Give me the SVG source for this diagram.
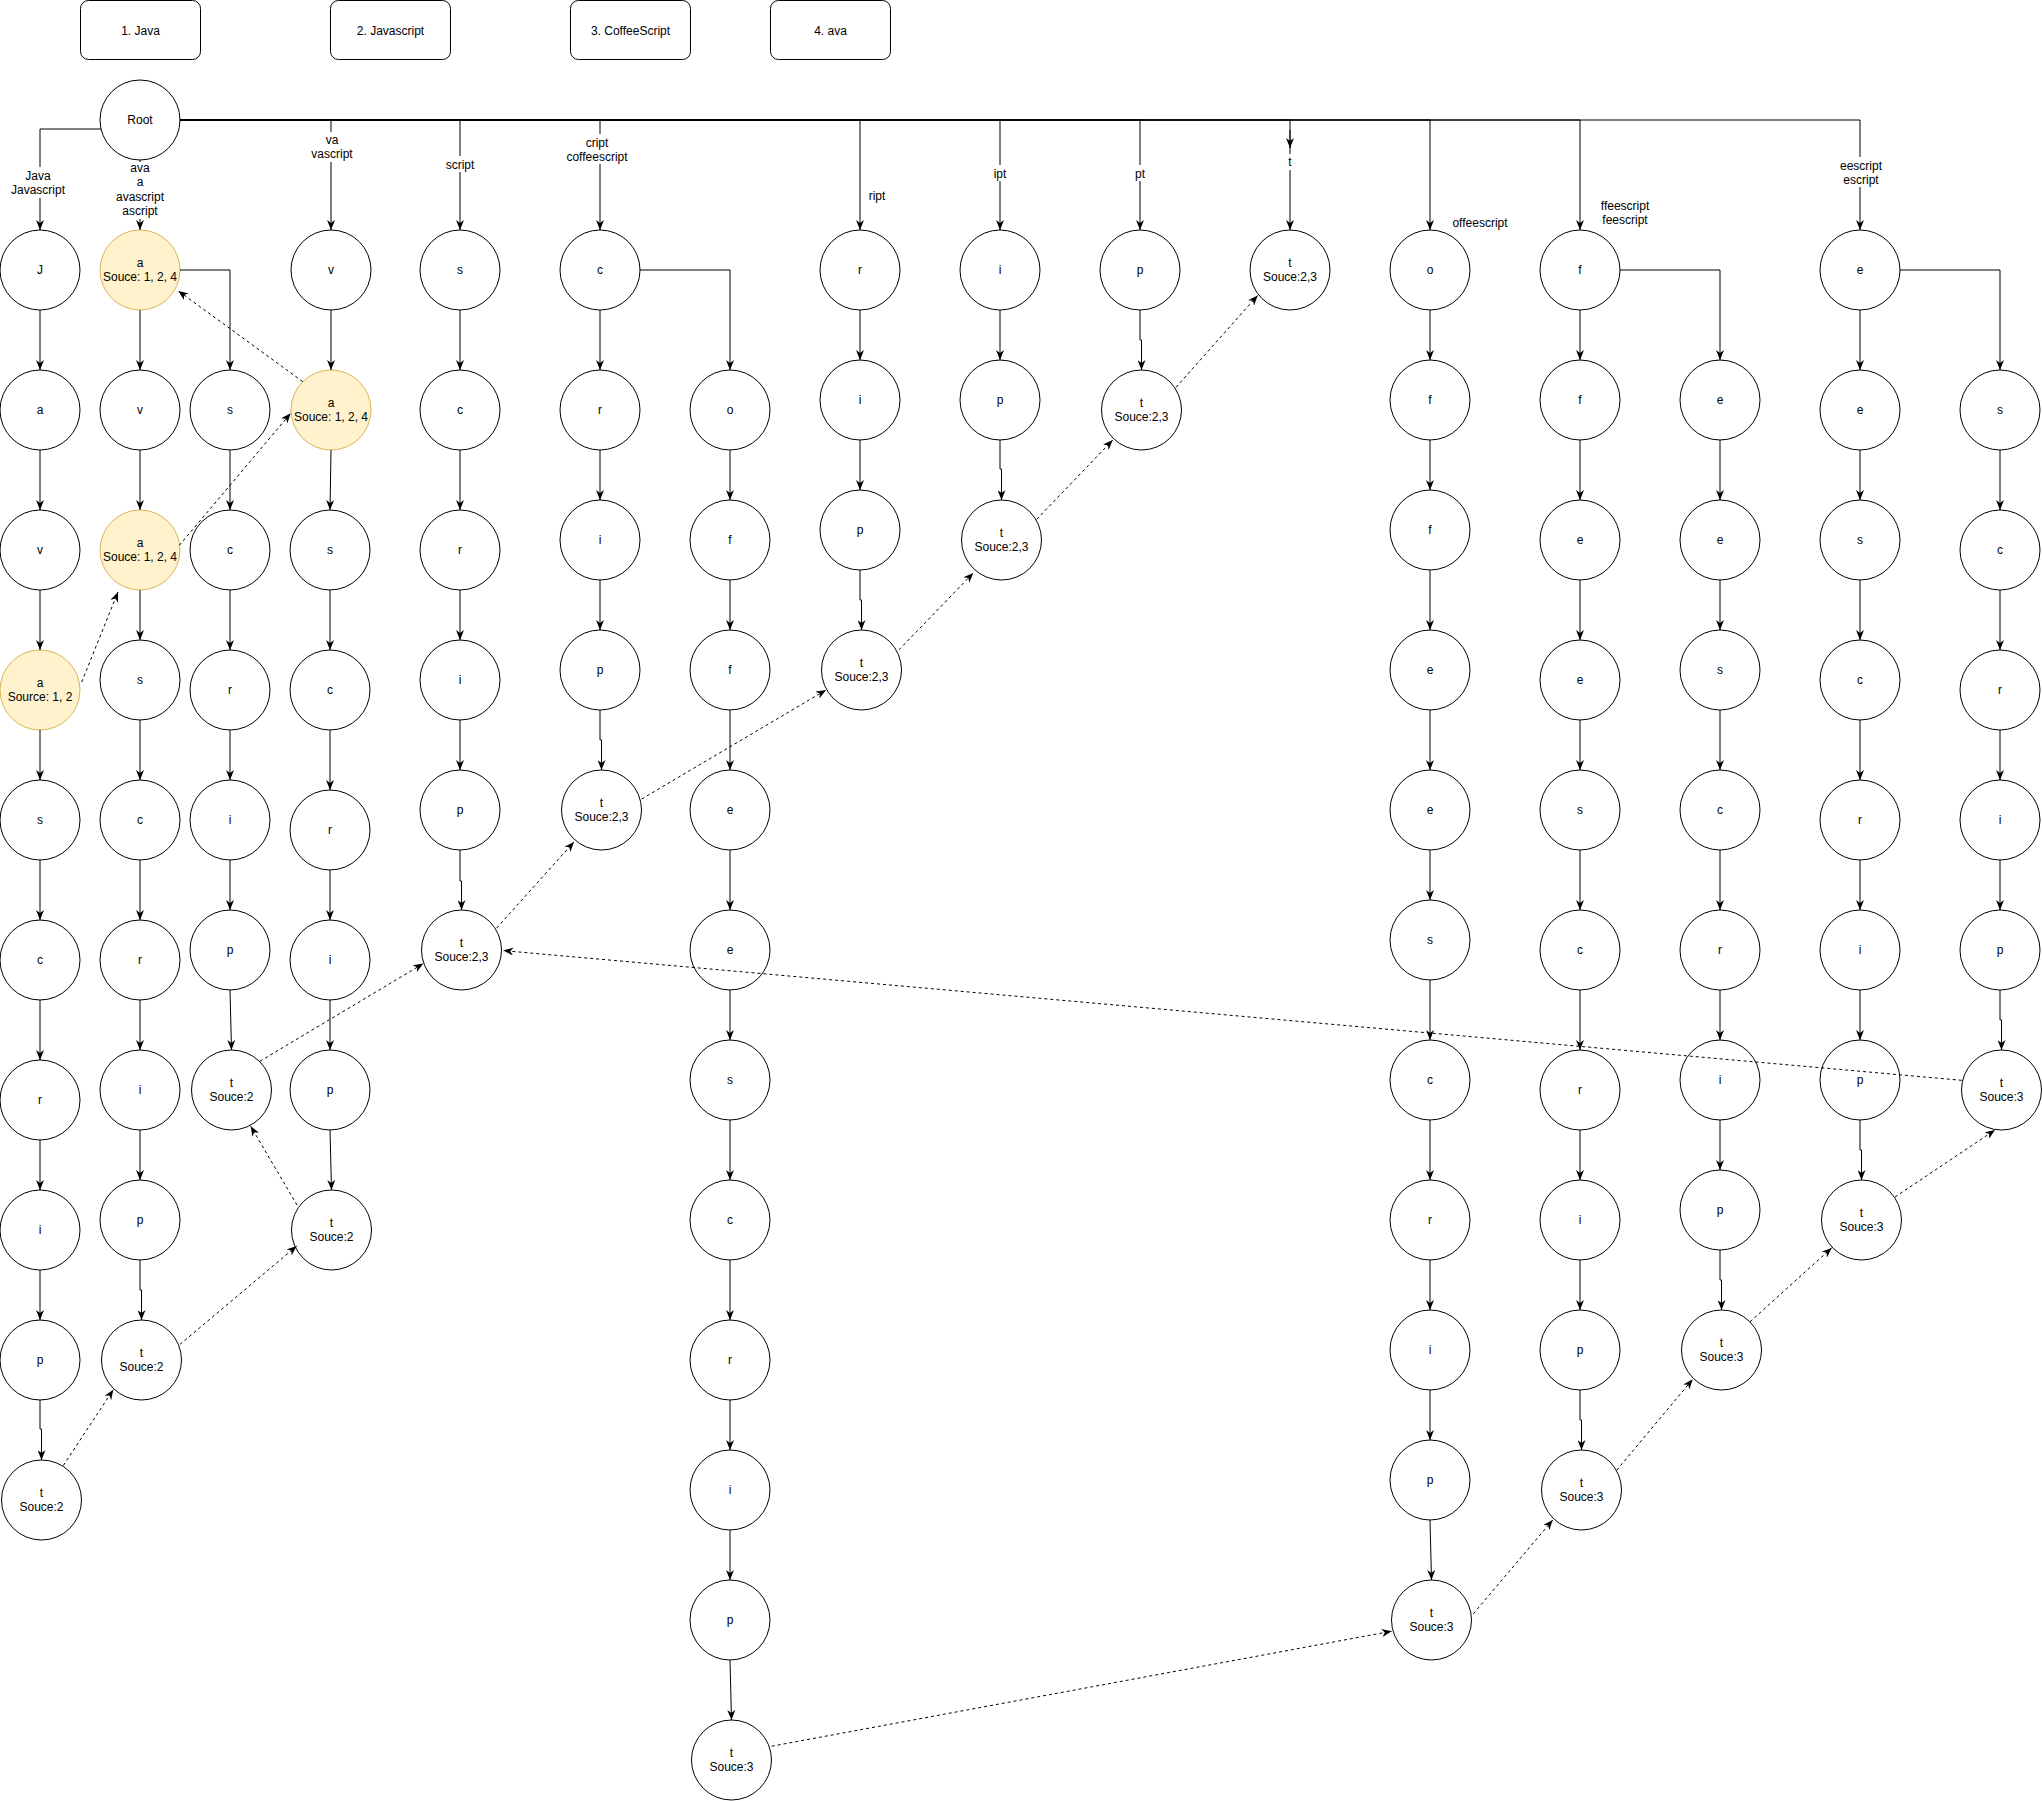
<svg xmlns="http://www.w3.org/2000/svg" width="2042" height="1801" viewBox="0 0 2042 1801">
<style>
.n{fill:#fff;stroke:#000;stroke-width:1}
.y{fill:#fff2cc;stroke:#d6b656;stroke-width:1}
.b{fill:#fff;stroke:#000;stroke-width:1}
.e{fill:none;stroke:#000;stroke-width:1;marker-end:url(#a)}
.d{fill:none;stroke:#000;stroke-width:1;stroke-dasharray:3 3;marker-end:url(#a)}
.lb{fill:#fff;stroke:none}
text{font-family:"Liberation Sans",Arial,Helvetica,sans-serif;font-size:12px;text-anchor:middle;fill:#000}
</style>
<defs>
<marker id="a" viewBox="0 0 10 8" refX="10" refY="4" markerWidth="10" markerHeight="8" markerUnits="userSpaceOnUse" orient="auto">
<path d="M0,0 L10,4 L0,8 L3,4 z" fill="#000"/>
</marker>
</defs>
<rect width="2042" height="1801" fill="#fff"/>

<!-- legend boxes -->
<g id="box1"><rect class="b" x="80.5" y="0.5" width="120" height="59" rx="8"/><text x="140.5" y="35">1. Java</text></g>
<g id="box2"><rect class="b" x="330.5" y="0.5" width="120" height="59" rx="8"/><text x="390.5" y="35">2. Javascript</text></g>
<g id="box3"><rect class="b" x="570.5" y="0.5" width="120" height="59" rx="8"/><text x="630.5" y="35">3. CoffeeScript</text></g>
<g id="box4"><rect class="b" x="770.5" y="0.5" width="120" height="59" rx="8"/><text x="830.5" y="35">4. ava</text></g>

<g id="root"><circle class="n" cx="140" cy="120" r="40"/><text x="140" y="124">Root</text></g>

<!-- col0 -->
<g id="c0n1"><circle class="n" cx="40" cy="270" r="40"/><text x="40" y="274">J</text></g>
<g id="c0n2"><circle class="n" cx="40" cy="410" r="40"/><text x="40" y="414">a</text></g>
<g id="c0n3"><circle class="n" cx="40" cy="550" r="40"/><text x="40" y="554">v</text></g>
<g id="c0n4"><circle class="y" cx="40" cy="690" r="40"/><text x="40" y="686.5"><tspan x="40">a</tspan><tspan x="40" dy="14">Source: 1, 2</tspan></text></g>
<g id="c0n5"><circle class="n" cx="40" cy="820" r="40"/><text x="40" y="824">s</text></g>
<g id="c0n6"><circle class="n" cx="40" cy="960" r="40"/><text x="40" y="964">c</text></g>
<g id="c0n7"><circle class="n" cx="40" cy="1100" r="40"/><text x="40" y="1104">r</text></g>
<g id="c0n8"><circle class="n" cx="40" cy="1230" r="40"/><text x="40" y="1234">i</text></g>
<g id="c0n9"><circle class="n" cx="40" cy="1360" r="40"/><text x="40" y="1364">p</text></g>
<g id="c0n10"><circle class="n" cx="41.5" cy="1500" r="40"/><text x="41.5" y="1496.5"><tspan x="41.5">t</tspan><tspan x="41.5" dy="14">Souce:2</tspan></text></g>

<!-- col1 -->
<g id="c1n1"><circle class="y" cx="140" cy="270" r="40"/><text x="140" y="266.5"><tspan x="140">a</tspan><tspan x="140" dy="14">Souce: 1, 2, 4</tspan></text></g>
<g id="c1n2"><circle class="n" cx="140" cy="410" r="40"/><text x="140" y="414">v</text></g>
<g id="c1n3"><circle class="y" cx="140" cy="550" r="40"/><text x="140" y="546.5"><tspan x="140">a</tspan><tspan x="140" dy="14">Souce: 1, 2, 4</tspan></text></g>
<g id="c1n4"><circle class="n" cx="140" cy="680" r="40"/><text x="140" y="684">s</text></g>
<g id="c1n5"><circle class="n" cx="140" cy="820" r="40"/><text x="140" y="824">c</text></g>
<g id="c1n6"><circle class="n" cx="140" cy="960" r="40"/><text x="140" y="964">r</text></g>
<g id="c1n7"><circle class="n" cx="140" cy="1090" r="40"/><text x="140" y="1094">i</text></g>
<g id="c1n8"><circle class="n" cx="140" cy="1220" r="40"/><text x="140" y="1224">p</text></g>
<g id="c1n9"><circle class="n" cx="141.5" cy="1360" r="40"/><text x="141.5" y="1356.5"><tspan x="141.5">t</tspan><tspan x="141.5" dy="14">Souce:2</tspan></text></g>

<!-- col2 -->
<g id="c2n1"><circle class="n" cx="230" cy="410" r="40"/><text x="230" y="414">s</text></g>
<g id="c2n2"><circle class="n" cx="230" cy="550" r="40"/><text x="230" y="554">c</text></g>
<g id="c2n3"><circle class="n" cx="230" cy="690" r="40"/><text x="230" y="694">r</text></g>
<g id="c2n4"><circle class="n" cx="230" cy="820" r="40"/><text x="230" y="824">i</text></g>
<g id="c2n5"><circle class="n" cx="230" cy="950" r="40"/><text x="230" y="954">p</text></g>
<g id="c2n6"><circle class="n" cx="231.5" cy="1090" r="40"/><text x="231.5" y="1086.5"><tspan x="231.5">t</tspan><tspan x="231.5" dy="14">Souce:2</tspan></text></g>

<!-- col3 -->
<g id="c3n1"><circle class="n" cx="331" cy="270" r="40"/><text x="331" y="274">v</text></g>
<g id="c3n2"><circle class="y" cx="331" cy="410" r="40"/><text x="331" y="406.5"><tspan x="331">a</tspan><tspan x="331" dy="14">Souce: 1, 2, 4</tspan></text></g>
<g id="c3n3"><circle class="n" cx="330" cy="550" r="40"/><text x="330" y="554">s</text></g>
<g id="c3n4"><circle class="n" cx="330" cy="690" r="40"/><text x="330" y="694">c</text></g>
<g id="c3n5"><circle class="n" cx="330" cy="830" r="40"/><text x="330" y="834">r</text></g>
<g id="c3n6"><circle class="n" cx="330" cy="960" r="40"/><text x="330" y="964">i</text></g>
<g id="c3n7"><circle class="n" cx="330" cy="1090" r="40"/><text x="330" y="1094">p</text></g>
<g id="c3n8"><circle class="n" cx="331.5" cy="1230" r="40"/><text x="331.5" y="1226.5"><tspan x="331.5">t</tspan><tspan x="331.5" dy="14">Souce:2</tspan></text></g>

<!-- col4 -->
<g id="c4n1"><circle class="n" cx="460" cy="270" r="40"/><text x="460" y="274">s</text></g>
<g id="c4n2"><circle class="n" cx="460" cy="410" r="40"/><text x="460" y="414">c</text></g>
<g id="c4n3"><circle class="n" cx="460" cy="550" r="40"/><text x="460" y="554">r</text></g>
<g id="c4n4"><circle class="n" cx="460" cy="680" r="40"/><text x="460" y="684">i</text></g>
<g id="c4n5"><circle class="n" cx="460" cy="810" r="40"/><text x="460" y="814">p</text></g>
<g id="c4n6"><circle class="n" cx="461.5" cy="950" r="40"/><text x="461.5" y="946.5"><tspan x="461.5">t</tspan><tspan x="461.5" dy="14">Souce:2,3</tspan></text></g>

<!-- col5 -->
<g id="c5n1"><circle class="n" cx="600" cy="270" r="40"/><text x="600" y="274">c</text></g>
<g id="c5n2"><circle class="n" cx="600" cy="410" r="40"/><text x="600" y="414">r</text></g>
<g id="c5n3"><circle class="n" cx="600" cy="540" r="40"/><text x="600" y="544">i</text></g>
<g id="c5n4"><circle class="n" cx="600" cy="670" r="40"/><text x="600" y="674">p</text></g>
<g id="c5n5"><circle class="n" cx="601.5" cy="810" r="40"/><text x="601.5" y="806.5"><tspan x="601.5">t</tspan><tspan x="601.5" dy="14">Souce:2,3</tspan></text></g>

<!-- col6 -->
<g id="c6n1"><circle class="n" cx="730" cy="410" r="40"/><text x="730" y="414">o</text></g>
<g id="c6n2"><circle class="n" cx="730" cy="540" r="40"/><text x="730" y="544">f</text></g>
<g id="c6n3"><circle class="n" cx="730" cy="670" r="40"/><text x="730" y="674">f</text></g>
<g id="c6n4"><circle class="n" cx="730" cy="810" r="40"/><text x="730" y="814">e</text></g>
<g id="c6n5"><circle class="n" cx="730" cy="950" r="40"/><text x="730" y="954">e</text></g>
<g id="c6n6"><circle class="n" cx="730" cy="1080" r="40"/><text x="730" y="1084">s</text></g>
<g id="c6n7"><circle class="n" cx="730" cy="1220" r="40"/><text x="730" y="1224">c</text></g>
<g id="c6n8"><circle class="n" cx="730" cy="1360" r="40"/><text x="730" y="1364">r</text></g>
<g id="c6n9"><circle class="n" cx="730" cy="1490" r="40"/><text x="730" y="1494">i</text></g>
<g id="c6n10"><circle class="n" cx="730" cy="1620" r="40"/><text x="730" y="1624">p</text></g>
<g id="c6n11"><circle class="n" cx="731.5" cy="1760" r="40"/><text x="731.5" y="1756.5"><tspan x="731.5">t</tspan><tspan x="731.5" dy="14">Souce:3</tspan></text></g>

<!-- col7 -->
<g id="c7n1"><circle class="n" cx="860" cy="270" r="40"/><text x="860" y="274">r</text></g>
<g id="c7n2"><circle class="n" cx="860" cy="400" r="40"/><text x="860" y="404">i</text></g>
<g id="c7n3"><circle class="n" cx="860" cy="530" r="40"/><text x="860" y="534">p</text></g>
<g id="c7n4"><circle class="n" cx="861.5" cy="670" r="40"/><text x="861.5" y="666.5"><tspan x="861.5">t</tspan><tspan x="861.5" dy="14">Souce:2,3</tspan></text></g>

<!-- col8 -->
<g id="c8n1"><circle class="n" cx="1000" cy="270" r="40"/><text x="1000" y="274">i</text></g>
<g id="c8n2"><circle class="n" cx="1000" cy="400" r="40"/><text x="1000" y="404">p</text></g>
<g id="c8n3"><circle class="n" cx="1001.5" cy="540" r="40"/><text x="1001.5" y="536.5"><tspan x="1001.5">t</tspan><tspan x="1001.5" dy="14">Souce:2,3</tspan></text></g>

<!-- col9 -->
<g id="c9n1"><circle class="n" cx="1140" cy="270" r="40"/><text x="1140" y="274">p</text></g>
<g id="c9n2"><circle class="n" cx="1141.5" cy="410" r="40"/><text x="1141.5" y="406.5"><tspan x="1141.5">t</tspan><tspan x="1141.5" dy="14">Souce:2,3</tspan></text></g>

<!-- col10 -->
<g id="c10n1"><circle class="n" cx="1290" cy="270" r="40"/><text x="1290" y="266.5"><tspan x="1290">t</tspan><tspan x="1290" dy="14">Souce:2,3</tspan></text></g>

<!-- col11 -->
<g id="c11n1"><circle class="n" cx="1430" cy="270" r="40"/><text x="1430" y="274">o</text></g>
<g id="c11n2"><circle class="n" cx="1430" cy="400" r="40"/><text x="1430" y="404">f</text></g>
<g id="c11n3"><circle class="n" cx="1430" cy="530" r="40"/><text x="1430" y="534">f</text></g>
<g id="c11n4"><circle class="n" cx="1430" cy="670" r="40"/><text x="1430" y="674">e</text></g>
<g id="c11n5"><circle class="n" cx="1430" cy="810" r="40"/><text x="1430" y="814">e</text></g>
<g id="c11n6"><circle class="n" cx="1430" cy="940" r="40"/><text x="1430" y="944">s</text></g>
<g id="c11n7"><circle class="n" cx="1430" cy="1080" r="40"/><text x="1430" y="1084">c</text></g>
<g id="c11n8"><circle class="n" cx="1430" cy="1220" r="40"/><text x="1430" y="1224">r</text></g>
<g id="c11n9"><circle class="n" cx="1430" cy="1350" r="40"/><text x="1430" y="1354">i</text></g>
<g id="c11n10"><circle class="n" cx="1430" cy="1480" r="40"/><text x="1430" y="1484">p</text></g>
<g id="c11n11"><circle class="n" cx="1431.5" cy="1620" r="40"/><text x="1431.5" y="1616.5"><tspan x="1431.5">t</tspan><tspan x="1431.5" dy="14">Souce:3</tspan></text></g>

<!-- col12 -->
<g id="c12n1"><circle class="n" cx="1580" cy="270" r="40"/><text x="1580" y="274">f</text></g>
<g id="c12n2"><circle class="n" cx="1580" cy="400" r="40"/><text x="1580" y="404">f</text></g>
<g id="c12n3"><circle class="n" cx="1580" cy="540" r="40"/><text x="1580" y="544">e</text></g>
<g id="c12n4"><circle class="n" cx="1580" cy="680" r="40"/><text x="1580" y="684">e</text></g>
<g id="c12n5"><circle class="n" cx="1580" cy="810" r="40"/><text x="1580" y="814">s</text></g>
<g id="c12n6"><circle class="n" cx="1580" cy="950" r="40"/><text x="1580" y="954">c</text></g>
<g id="c12n7"><circle class="n" cx="1580" cy="1090" r="40"/><text x="1580" y="1094">r</text></g>
<g id="c12n8"><circle class="n" cx="1580" cy="1220" r="40"/><text x="1580" y="1224">i</text></g>
<g id="c12n9"><circle class="n" cx="1580" cy="1350" r="40"/><text x="1580" y="1354">p</text></g>
<g id="c12n10"><circle class="n" cx="1581.5" cy="1490" r="40"/><text x="1581.5" y="1486.5"><tspan x="1581.5">t</tspan><tspan x="1581.5" dy="14">Souce:3</tspan></text></g>

<!-- col13 -->
<g id="c13n1"><circle class="n" cx="1720" cy="400" r="40"/><text x="1720" y="404">e</text></g>
<g id="c13n2"><circle class="n" cx="1720" cy="540" r="40"/><text x="1720" y="544">e</text></g>
<g id="c13n3"><circle class="n" cx="1720" cy="670" r="40"/><text x="1720" y="674">s</text></g>
<g id="c13n4"><circle class="n" cx="1720" cy="810" r="40"/><text x="1720" y="814">c</text></g>
<g id="c13n5"><circle class="n" cx="1720" cy="950" r="40"/><text x="1720" y="954">r</text></g>
<g id="c13n6"><circle class="n" cx="1720" cy="1080" r="40"/><text x="1720" y="1084">i</text></g>
<g id="c13n7"><circle class="n" cx="1720" cy="1210" r="40"/><text x="1720" y="1214">p</text></g>
<g id="c13n8"><circle class="n" cx="1721.5" cy="1350" r="40"/><text x="1721.5" y="1346.5"><tspan x="1721.5">t</tspan><tspan x="1721.5" dy="14">Souce:3</tspan></text></g>

<!-- col14 -->
<g id="c14n1"><circle class="n" cx="1860" cy="270" r="40"/><text x="1860" y="274">e</text></g>
<g id="c14n2"><circle class="n" cx="1860" cy="410" r="40"/><text x="1860" y="414">e</text></g>
<g id="c14n3"><circle class="n" cx="1860" cy="540" r="40"/><text x="1860" y="544">s</text></g>
<g id="c14n4"><circle class="n" cx="1860" cy="680" r="40"/><text x="1860" y="684">c</text></g>
<g id="c14n5"><circle class="n" cx="1860" cy="820" r="40"/><text x="1860" y="824">r</text></g>
<g id="c14n6"><circle class="n" cx="1860" cy="950" r="40"/><text x="1860" y="954">i</text></g>
<g id="c14n7"><circle class="n" cx="1860" cy="1080" r="40"/><text x="1860" y="1084">p</text></g>
<g id="c14n8"><circle class="n" cx="1861.5" cy="1220" r="40"/><text x="1861.5" y="1216.5"><tspan x="1861.5">t</tspan><tspan x="1861.5" dy="14">Souce:3</tspan></text></g>

<!-- col15 -->
<g id="c15n1"><circle class="n" cx="2000" cy="410" r="40"/><text x="2000" y="414">s</text></g>
<g id="c15n2"><circle class="n" cx="2000" cy="550" r="40"/><text x="2000" y="554">c</text></g>
<g id="c15n3"><circle class="n" cx="2000" cy="690" r="40"/><text x="2000" y="694">r</text></g>
<g id="c15n4"><circle class="n" cx="2000" cy="820" r="40"/><text x="2000" y="824">i</text></g>
<g id="c15n5"><circle class="n" cx="2000" cy="950" r="40"/><text x="2000" y="954">p</text></g>
<g id="c15n6"><circle class="n" cx="2001.5" cy="1090" r="40"/><text x="2001.5" y="1086.5"><tspan x="2001.5">t</tspan><tspan x="2001.5" dy="14">Souce:3</tspan></text></g>

<g id="connectors">
<!-- root edges -->
<path class="e" d="M101,129H40V230"/>
<path class="e" d="M140,160V230"/>
<path class="e" d="M180,120H331V230"/>
<path class="e" d="M180,120H460V230"/>
<path class="e" d="M180,120H600V230"/>
<path class="e" d="M180,120H860V230"/>
<path class="e" d="M180,120H1000V230"/>
<path class="e" d="M180,120H1140V230"/>
<path class="e" d="M180,120H1290V230"/>
<path class="e" d="M1290,130V148"/>
<path class="e" d="M180,120H1430V230"/>
<path class="e" d="M180,120H1580V230"/>
<path class="e" d="M180,120H1860V230"/>
<!-- col0 -->
<path class="e" d="M40,310V370"/>
<path class="e" d="M40,450V510"/>
<path class="e" d="M40,590V650"/>
<path class="e" d="M40,730V780"/>
<path class="e" d="M40,860V920"/>
<path class="e" d="M40,1000V1060"/>
<path class="e" d="M40,1140V1190"/>
<path class="e" d="M40,1270V1320"/>
<path class="e" d="M40,1400V1429H41.5V1460"/>
<!-- col1 -->
<path class="e" d="M180,270H230V370"/>
<path class="e" d="M140,310V370"/>
<path class="e" d="M140,450V510"/>
<path class="e" d="M140,590V640"/>
<path class="e" d="M140,720V780"/>
<path class="e" d="M140,860V920"/>
<path class="e" d="M140,1000V1050"/>
<path class="e" d="M140,1130V1180"/>
<path class="e" d="M140,1260V1290H141.5V1320"/>
<!-- col2 -->
<path class="e" d="M230,450V510"/>
<path class="e" d="M230,590V650"/>
<path class="e" d="M230,730V780"/>
<path class="e" d="M230,860V910"/>
<path class="e" d="M230,990L231.5,1050"/>
<!-- col3 -->
<path class="e" d="M331,310V370"/>
<path class="e" d="M331,450L330,510"/>
<path class="e" d="M330,590V650"/>
<path class="e" d="M330,730V790"/>
<path class="e" d="M330,870V920"/>
<path class="e" d="M330,1000V1050"/>
<path class="e" d="M330,1130L331.5,1190"/>
<!-- col4 -->
<path class="e" d="M460,310V370"/>
<path class="e" d="M460,450V510"/>
<path class="e" d="M460,590V640"/>
<path class="e" d="M460,720V770"/>
<path class="e" d="M460,850V881H461.5V910"/>
<!-- col5 -->
<path class="e" d="M600,310V370"/>
<path class="e" d="M600,450V500"/>
<path class="e" d="M600,580V630"/>
<path class="e" d="M600,710V740H601.5V770"/>
<!-- col6 -->
<path class="e" d="M640,270H730V370"/>
<path class="e" d="M730,450V500"/>
<path class="e" d="M730,580V630"/>
<path class="e" d="M730,710V770"/>
<path class="e" d="M730,850V910"/>
<path class="e" d="M730,990V1040"/>
<path class="e" d="M730,1120V1180"/>
<path class="e" d="M730,1260V1320"/>
<path class="e" d="M730,1400V1450"/>
<path class="e" d="M730,1530V1580"/>
<path class="e" d="M730,1660L731.5,1720"/>
<!-- col7 -->
<path class="e" d="M860,310V360"/>
<path class="e" d="M860,440V490"/>
<path class="e" d="M860,570V600H861.5V630"/>
<!-- col8 -->
<path class="e" d="M1000,310V360"/>
<path class="e" d="M1000,440V469H1001.5V500"/>
<!-- col9 -->
<path class="e" d="M1140,310V340H1141.5V370"/>
<!-- col11 -->
<path class="e" d="M1430,310V360"/>
<path class="e" d="M1430,440V490"/>
<path class="e" d="M1430,570V630"/>
<path class="e" d="M1430,710V770"/>
<path class="e" d="M1430,850V900"/>
<path class="e" d="M1430,980V1040"/>
<path class="e" d="M1430,1120V1180"/>
<path class="e" d="M1430,1260V1310"/>
<path class="e" d="M1430,1390V1440"/>
<path class="e" d="M1430,1520L1431.5,1580"/>
<!-- col12 -->
<path class="e" d="M1620,270H1720V360"/>
<path class="e" d="M1580,310V360"/>
<path class="e" d="M1580,440V500"/>
<path class="e" d="M1580,580V640"/>
<path class="e" d="M1580,720V770"/>
<path class="e" d="M1580,850V910"/>
<path class="e" d="M1580,990V1050"/>
<path class="e" d="M1580,1130V1180"/>
<path class="e" d="M1580,1260V1310"/>
<path class="e" d="M1580,1390V1420H1581.5V1450"/>
<!-- col13 -->
<path class="e" d="M1720,440V500"/>
<path class="e" d="M1720,580V630"/>
<path class="e" d="M1720,710V770"/>
<path class="e" d="M1720,850V910"/>
<path class="e" d="M1720,990V1040"/>
<path class="e" d="M1720,1120V1170"/>
<path class="e" d="M1720,1250V1280H1721.5V1310"/>
<!-- col14 -->
<path class="e" d="M1900,270H2000V370"/>
<path class="e" d="M1860,310V370"/>
<path class="e" d="M1860,450V500"/>
<path class="e" d="M1860,580V640"/>
<path class="e" d="M1860,720V780"/>
<path class="e" d="M1860,860V910"/>
<path class="e" d="M1860,990V1040"/>
<path class="e" d="M1860,1120V1150H1861.5V1180"/>
<!-- col15 -->
<path class="e" d="M2000,450V510"/>
<path class="e" d="M2000,590V650"/>
<path class="e" d="M2000,730V780"/>
<path class="e" d="M2000,860V910"/>
<path class="e" d="M2000,990V1020H2001.5V1050"/>
<!-- dashed links -->
<path class="d" d="M81.7,682L118,592"/>
<path class="d" d="M179.3,545.4L290.7,413.3"/>
<path class="d" d="M302.7,381.6L178.3,290.9"/>
<path class="d" d="M180,1344.4L296.7,1246"/>
<path class="d" d="M63.3,1465.5L113.3,1389.7"/>
<path class="d" d="M297,1205L250.7,1126.2"/>
<path class="d" d="M260,1061.2L423.3,963.6"/>
<path class="d" d="M496.7,928L574,841.9"/>
<path class="d" d="M641.7,799L826,690"/>
<path class="d" d="M899,649.8L973.3,572.9"/>
<path class="d" d="M1036.7,519.3L1112.7,440.1"/>
<path class="d" d="M1176,387.3L1257.7,295.4"/>
<path class="d" d="M1961.7,1080.3L503.3,950.6"/>
<path class="d" d="M771.7,1746.2L1391.7,1631.2"/>
<path class="d" d="M1473.3,1613.8L1552.7,1520"/>
<path class="d" d="M1616.7,1470.2L1692.7,1379.3"/>
<path class="d" d="M1750,1321.8L1831.7,1247.9"/>
<path class="d" d="M1895,1197L1995,1130"/>
<!-- edge labels -->
<rect class="lb" x="10" y="167" width="56" height="31"/>
<text x="38" y="180"><tspan x="38">Java</tspan><tspan x="38" dy="14">Javascript</tspan></text>
<rect class="lb" x="115" y="162" width="50" height="57"/>
<text x="140" y="172"><tspan x="140">ava</tspan><tspan x="140" dy="14.3">a</tspan><tspan x="140" dy="14.3">avascript</tspan><tspan x="140" dy="14.3">ascript</tspan></text>
<rect class="lb" x="310" y="132" width="44" height="30"/>
<text x="332" y="144"><tspan x="332">va</tspan><tspan x="332" dy="14.3">vascript</tspan></text>
<rect class="lb" x="444" y="156" width="32" height="16"/>
<text x="460" y="168.5">script</text>
<rect class="lb" x="565" y="134" width="64" height="30"/>
<text x="597" y="146.5"><tspan x="597">cript</tspan><tspan x="597" dy="14">coffeescript</tspan></text>
<text x="877" y="200">ript</text>
<rect class="lb" x="992" y="165" width="16" height="16"/>
<text x="1000" y="177.5">ipt</text>
<rect class="lb" x="1133" y="165" width="14" height="16"/>
<text x="1140" y="177.5">pt</text>
<rect class="lb" x="1286" y="154" width="8" height="16"/>
<text x="1290" y="166">t</text>
<text x="1480" y="226.5">offeescript</text>
<text x="1625" y="210"><tspan x="1625">ffeescript</tspan><tspan x="1625" dy="14">feescript</tspan></text>
<rect class="lb" x="1836" y="157" width="50" height="30"/>
<text x="1861" y="169.5"><tspan x="1861">eescript</tspan><tspan x="1861" dy="14">escript</tspan></text>
</g>
</svg>
